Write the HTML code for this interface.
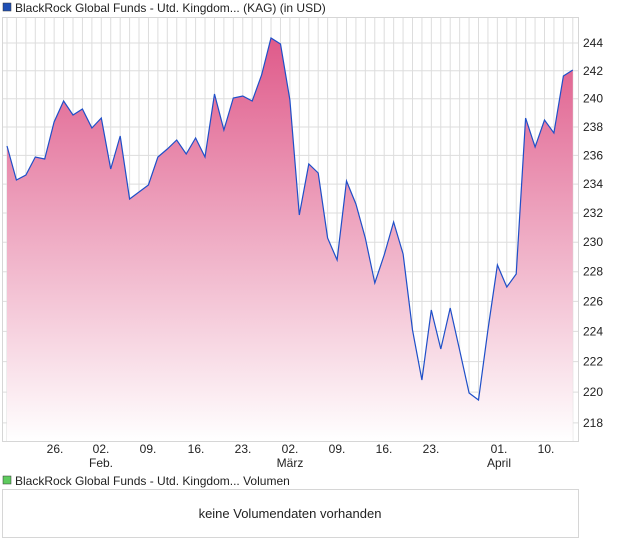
<!DOCTYPE html>
<html><head><meta charset="utf-8"><style>
body{margin:0;background:#fff;font-family:"Liberation Sans",sans-serif;}
svg text{font-family:"Liberation Sans",sans-serif;font-size:12px;fill:#222;}
</style></head><body>
<svg width="620" height="546" xmlns="http://www.w3.org/2000/svg">
<defs>
<linearGradient id="g" x1="0" y1="0" x2="0" y2="1" gradientUnits="userSpaceOnUse" x1a="0">
</linearGradient>
<linearGradient id="f" gradientUnits="userSpaceOnUse" x1="0" y1="38" x2="0" y2="441">
<stop offset="0" stop-color="#df5a8a"/>
<stop offset="1" stop-color="#ffffff"/>
</linearGradient>
</defs>
<rect x="0" y="0" width="620" height="546" fill="#fff"/>
<rect x="3" y="3" width="8" height="8" fill="#1f4fb5" stroke="#333" stroke-width="0.5"/>
<text x="15" y="12">BlackRock Global Funds - Utd. Kingdom... (KAG) (in USD)</text>
<g id="grid" stroke="#dddddd" stroke-width="1"></g>
<path id="area" fill="url(#f)"/>
<polyline id="line" fill="none" stroke="#1f4fc8" stroke-width="1.2"/>
<rect x="2.5" y="17.5" width="576" height="424" fill="none" stroke="#d6d6d6"/>
<g id="ylab"></g>
<g id="xlab"></g>
<rect x="3" y="476" width="8" height="8" fill="#5ecb5e" stroke="#333" stroke-width="0.5"/>
<text x="15" y="485">BlackRock Global Funds - Utd. Kingdom... Volumen</text>
<rect x="2.5" y="489.5" width="576" height="48" fill="none" stroke="#d6d6d6"/>
<text x="290" y="518" text-anchor="middle" style="font-size:13px">keine Volumendaten vorhanden</text>
</svg>
<script>
var ys=[146,180,175,157,159,122,101,115,109,128,118,169,136,199,192,185,157,149,140,154,138,157,94,130,98,96,101,75,38,44,100,215,164,173,238,260,181,204,238,283,255,222,254,330,380,310,349,308,350,393,400,330,265,287,274,118,147,120,133,76,70];
var NS="http://www.w3.org/2000/svg";
var pts=ys.map(function(y,i){return (7+i*9.43).toFixed(1)+","+y;});
document.getElementById("line").setAttribute("points",pts.join(" "));
document.getElementById("area").setAttribute("d","M7,441 L"+pts.join(" L")+" L"+(7+60*9.43).toFixed(1)+",441 Z");
var g=document.getElementById("grid");
function ln(x1,y1,x2,y2,p){var l=document.createElementNS(NS,"line");l.setAttribute("x1",x1);l.setAttribute("y1",y1);l.setAttribute("x2",x2);l.setAttribute("y2",y2);if(p)p.appendChild(l);return l;}
for(var i=0;i<61;i++){var x=7+i*9.43;ln(x,18,x,441,g);}
var yl=document.getElementById("ylab");
for(var v=218;v<=244;v+=2){var y=43+(Math.log(244)-Math.log(v))*3372;ln(3,y,578,y,g);
var t=document.createElementNS(NS,"text");t.setAttribute("x",583);t.setAttribute("y",y+4);t.textContent=v;yl.appendChild(t);}
var xl=document.getElementById("xlab");
var labs=[[55,"26."],[101,"02.","Feb."],[148,"09."],[196,"16."],[243,"23."],[290,"02.","März"],[337,"09."],[384,"16."],[431,"23."],[499,"01.","April"],[546,"10."]];
labs.forEach(function(a){var t=document.createElementNS(NS,"text");t.setAttribute("x",a[0]);t.setAttribute("y",453);t.setAttribute("text-anchor","middle");t.textContent=a[1];xl.appendChild(t);
if(a[2]){var t2=document.createElementNS(NS,"text");t2.setAttribute("x",a[0]);t2.setAttribute("y",467);t2.setAttribute("text-anchor","middle");t2.textContent=a[2];xl.appendChild(t2);}});
</script>
</body></html>
